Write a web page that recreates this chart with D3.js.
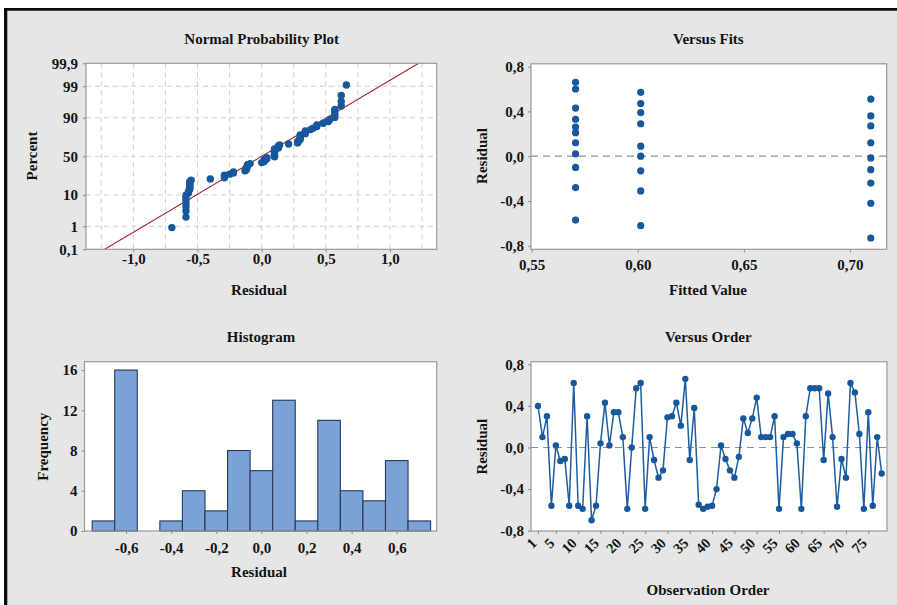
<!DOCTYPE html>
<html><head><meta charset="utf-8">
<script src="https://cdn.jsdelivr.net/npm/d3@7"></script>
<style>
html,body{margin:0;padding:0;background:#fff;}
svg{display:block;}
text{font-family:"Liberation Serif","Times New Roman",serif;font-weight:bold;fill:#141414;}
</style></head><body>
<svg id="chart" width="897" height="605"></svg>
<script>
// Residuals in observation order (1..78)
const residuals = [0.40,0.10,0.30,-0.56,0.02,-0.13,-0.11,-0.56,0.62,-0.56,
  -0.59,0.30,-0.70,-0.56,0.04,0.43,0.02,0.34,0.34,0.10,
  -0.59,0.00,0.57,0.62,-0.59,0.10,-0.12,-0.29,-0.22,0.29,
  0.30,0.43,0.21,0.66,-0.12,0.38,-0.55,-0.59,-0.57,-0.56,
  -0.40,0.02,-0.11,-0.22,-0.29,-0.09,0.28,0.14,0.28,0.48,
  0.10,0.10,0.10,0.30,-0.59,0.10,0.13,0.13,0.04,-0.59,
  0.30,0.57,0.57,0.57,-0.12,0.52,0.10,-0.57,-0.11,-0.29,
  0.62,0.53,0.13,-0.59,0.34,-0.56,0.10,-0.25];

// Distinct residuals at each fitted value
const fittedLevels = [0.5707, 0.6014, 0.7098];
const residAtFit1 = [0.66,0.60,0.43,0.33,0.26,0.21,0.12,0.02,-0.10,-0.28,-0.57];
const residAtFit2 = [0.57,0.47,0.39,0.29,0.09,0.00,-0.13,-0.31,-0.62];
const residAtFit3 = [0.51,0.36,0.27,0.12,-0.015,-0.12,-0.24,-0.42,-0.73];

// Histogram bins (centres) and counts
const histCenters = [-0.7,-0.6,-0.5,-0.4,-0.3,-0.2,-0.1,0.0,0.1,0.2,0.3,0.4,0.5,0.6,0.7];
const histCounts  = [1,16,0,1,4,2,8,6,13,1,11,4,3,7,1];
const histBinWidth = 0.1;

// Normal fit line parameters
const fitMean = 0.0, fitSd = 0.396;

// Tick values
const nppXTicks = [-1.0,-0.5,0,0.5,1.0];
const nppGridX = [-1.25,-1,-0.75,-0.5,-0.25,0,0.25,0.5,0.75,1,1.25];
const nppYTicks = [0.1,1,10,50,90,99,99.9];
const fitsXTicks = [0.55,0.60,0.65,0.70];
const residTicks = [-0.8,-0.4,0,0.4,0.8];
const histXTicks = [-0.6,-0.4,-0.2,0,0.2,0.4,0.6];
const histYTicks = [0,4,8,12,16];
const orderTicks = [1,5,10,15,20,25,30,35,40,45,50,55,60,65,70,75];

const loc = d3.formatLocale({decimal:",", thousands:".", grouping:[3], currency:["",""], minus:"-"});
const f1 = loc.format(".1f"), f2 = loc.format(".2f");

// inverse standard normal CDF (Acklam)
function probit(p){
  const a=[-3.969683028665376e+01,2.209460984245205e+02,-2.759285104469687e+02,1.383577518672690e+02,-3.066479806614716e+01,2.506628277459239e+00];
  const b=[-5.447609879822406e+01,1.615858368580409e+02,-1.556989798598866e+02,6.680131188771972e+01,-1.328068155288572e+01];
  const c=[-7.784894002430293e-03,-3.223964580411365e-01,-2.400758277161838e+00,-2.549732539343734e+00,4.374664141464968e+00,2.938163982698783e+00];
  const d=[7.784695709041462e-03,3.224671290700398e-01,2.445134137142996e+00,3.754408661907416e+00];
  const pl=0.02425, ph=1-pl; let q,r;
  if(p<pl){q=Math.sqrt(-2*Math.log(p));return (((((c[0]*q+c[1])*q+c[2])*q+c[3])*q+c[4])*q+c[5])/((((d[0]*q+d[1])*q+d[2])*q+d[3])*q+1);}
  if(p>ph){q=Math.sqrt(-2*Math.log(1-p));return -(((((c[0]*q+c[1])*q+c[2])*q+c[3])*q+c[4])*q+c[5])/((((d[0]*q+d[1])*q+d[2])*q+d[3])*q+1);}
  q=p-0.5;r=q*q;return (((((a[0]*r+a[1])*r+a[2])*r+a[3])*r+a[4])*r+a[5])*q/(((((b[0]*r+b[1])*r+b[2])*r+b[3])*r+b[4])*r+1);
}

const svg = d3.select("#chart");
const DOT = "#17579c", FRAME = "#9a9a9a", TICK = "#8a8a8a";

// outer window: grey canvas with dark border top and left
svg.append("rect").attr("x",7).attr("y",10).attr("width",890).attr("height",595).attr("fill","#e6e6e6");
svg.append("rect").attr("x",4).attr("y",8).attr("width",893).attr("height",2.7).attr("fill","#0a0a0a");
svg.append("rect").attr("x",4).attr("y",8).attr("width",3.3).attr("height",597).attr("fill","#0a0a0a");

function plotArea(b){
  svg.append("rect").attr("x",b.x0).attr("y",b.y0).attr("width",b.x1-b.x0).attr("height",b.y1-b.y0).attr("fill","#fff");
}
function frame(b){
  svg.append("rect").attr("x",b.x0).attr("y",b.y0).attr("width",b.x1-b.x0).attr("height",b.y1-b.y0)
    .attr("fill","none").attr("stroke",FRAME).attr("stroke-width",1.2);
}
function styleAxis(g, size){
  g.select(".domain").remove();
  g.selectAll(".tick line").attr("stroke",TICK);
  g.selectAll(".tick text").style("font-size",(size||15)+"px").attr("fill","#141414");
}
function title(txt,x,y){ svg.append("text").attr("x",x).attr("y",y).attr("text-anchor","middle").style("font-size","15px").text(txt); }
function xlabel(txt,x,y){ svg.append("text").attr("x",x).attr("y",y).attr("text-anchor","middle").style("font-size","15px").text(txt); }
function ylabel(txt,x,y){ svg.append("text").attr("transform",`translate(${x},${y}) rotate(-90)`).attr("text-anchor","middle").style("font-size","15px").text(txt); }

/* ---------- Normal Probability Plot ---------- */
{
  const b = {x0:86, x1:436.7, y0:63.3, y1:249.3};
  plotArea(b);
  const x = d3.scaleLinear().domain([-1.369,1.364]).range([b.x0,b.x1]);
  const z = d3.scaleLinear().domain([probit(0.001),probit(0.999)]).range([b.y1,b.y0]);
  const gg = svg.append("g").attr("stroke","#cfcfcf").attr("stroke-dasharray","5,4").attr("stroke-width",1);
  gg.selectAll("line.v").data(nppGridX).join("line").attr("class","v")
    .attr("x1",d=>x(d)).attr("x2",d=>x(d)).attr("y1",b.y0).attr("y2",b.y1);
  gg.selectAll("line.h").data(nppYTicks.slice(1,-1)).join("line").attr("class","h")
    .attr("x1",b.x0).attr("x2",b.x1).attr("y1",d=>z(probit(d/100))).attr("y2",d=>z(probit(d/100)));
  // fitted normal line
  const zl = probit(0.001), zh = probit(0.999);
  svg.append("line").attr("x1",x(fitMean+zl*fitSd)).attr("y1",z(zl)).attr("x2",x(fitMean+zh*fitSd)).attr("y2",z(zh))
    .attr("stroke","#a32a2a").attr("stroke-width",1.1);
  // points from sorted residuals with median-rank percentiles
  const sorted = residuals.slice().sort(d3.ascending);
  const n = sorted.length;
  svg.append("g").selectAll("circle").data(sorted).join("circle")
    .attr("cx",d=>x(d)).attr("cy",(d,i)=>z(probit((i+1-0.3)/(n+0.4)))).attr("r",3.7).attr("fill",DOT);
  frame(b);
  const ax = svg.append("g").attr("transform",`translate(0,${b.y1})`)
    .call(d3.axisBottom(x).tickValues(nppXTicks).tickFormat(f1).tickSize(3).tickPadding(1));
  styleAxis(ax);
  const ay = svg.append("g").attr("transform",`translate(${b.x0},0)`)
    .call(d3.axisLeft(z).tickValues(nppYTicks.map(p=>probit(p/100)))
      .tickFormat((d,i)=>nppYTicks[i]%1 ? f1(nppYTicks[i]) : String(nppYTicks[i])).tickSize(3).tickPadding(5));
  styleAxis(ay);
  title("Normal Probability Plot",261.7,43.5);
  xlabel("Residual",259,295);
  ylabel("Percent",36.7,156);
}

/* ---------- Versus Fits ---------- */
{
  const b = {x0:531, x1:886.7, y0:63.8, y1:249.3};
  plotArea(b);
  const x = d3.scaleLinear().domain([0.5497,0.7173]).range([b.x0,b.x1]);
  const y = d3.scaleLinear().domain([-0.831,0.825]).range([b.y1,b.y0]);
  svg.append("line").attr("x1",b.x0).attr("x2",b.x1).attr("y1",y(0)).attr("y2",y(0))
    .attr("stroke","#8f8f8f").attr("stroke-width",1.2).attr("stroke-dasharray","7,5");
  const pts = [];
  [residAtFit1,residAtFit2,residAtFit3].forEach((arr,k)=>arr.forEach(v=>pts.push([fittedLevels[k],v])));
  svg.append("g").selectAll("circle").data(pts).join("circle")
    .attr("cx",d=>x(d[0])).attr("cy",d=>y(d[1])).attr("r",3.6).attr("fill",DOT);
  frame(b);
  const ax = svg.append("g").attr("transform",`translate(0,${b.y1})`)
    .call(d3.axisBottom(x).tickValues(fitsXTicks).tickFormat(f2).tickSize(3).tickPadding(7));
  styleAxis(ax);
  const ay = svg.append("g").attr("transform",`translate(${b.x0},0)`)
    .call(d3.axisLeft(y).tickValues(residTicks).tickFormat(f1).tickSize(3).tickPadding(4));
  styleAxis(ay);
  title("Versus Fits",708.3,43.5);
  xlabel("Fitted Value",708,295);
  ylabel("Residual",486.7,156);
}

/* ---------- Histogram ---------- */
{
  const b = {x0:84.5, x1:436.7, y0:361.7, y1:531};
  plotArea(b);
  const x = d3.scaleLinear().domain([-0.784,0.777]).range([b.x0,b.x1]);
  const y = d3.scaleLinear().domain([0,16.83]).range([b.y1,b.y0]);
  const bars = histCenters.map((c,i)=>({c, n:histCounts[i]}));
  svg.append("g").selectAll("rect").data(bars.filter(d=>d.n>0)).join("rect")
    .attr("x",d=>x(d.c-histBinWidth/2)).attr("width",d=>x(d.c+histBinWidth/2)-x(d.c-histBinWidth/2))
    .attr("y",d=>y(d.n)).attr("height",d=>y(0)-y(d.n))
    .attr("fill","#7ba2d6").attr("stroke","#25395a").attr("stroke-width",1.1);
  frame(b);
  const ax = svg.append("g").attr("transform",`translate(0,${b.y1})`)
    .call(d3.axisBottom(x).tickValues(histXTicks).tickFormat(f1).tickSize(3).tickPadding(8));
  styleAxis(ax);
  const ay = svg.append("g").attr("transform",`translate(${b.x0},0)`)
    .call(d3.axisLeft(y).tickValues(histYTicks).tickFormat(d3.format("d")).tickSize(3).tickPadding(4));
  styleAxis(ay);
  title("Histogram",261,341.5);
  xlabel("Residual",259,576.5);
  ylabel("Frequency",48,446.7);
}

/* ---------- Versus Order ---------- */
{
  const b = {x0:531, x1:887, y0:361.7, y1:531};
  plotArea(b);
  const x = d3.scaleLinear().domain([-0.57,79.19]).range([b.x0,b.x1]);
  const y = d3.scaleLinear().domain([-0.803,0.825]).range([b.y1,b.y0]);
  svg.append("line").attr("x1",b.x0).attr("x2",b.x1).attr("y1",y(0)).attr("y2",y(0))
    .attr("stroke","#8f8f8f").attr("stroke-width",1.2).attr("stroke-dasharray","7,5");
  const line = d3.line().x((d,i)=>x(i+1)).y(d=>y(d));
  svg.append("path").datum(residuals).attr("d",line).attr("fill","none").attr("stroke","#1d5da0").attr("stroke-width",1.5);
  svg.append("g").selectAll("circle").data(residuals).join("circle")
    .attr("cx",(d,i)=>x(i+1)).attr("cy",d=>y(d)).attr("r",3.2).attr("fill",DOT);
  frame(b);
  const ax = svg.append("g").attr("transform",`translate(0,${b.y1})`)
    .call(d3.axisBottom(x).tickValues(orderTicks).tickFormat(d3.format("d")).tickSize(3));
  styleAxis(ax,14.5);
  ax.selectAll(".tick text").attr("y",0).attr("dy",0)
    .attr("transform","translate(-1,13) rotate(-45)").style("text-anchor","end");
  const ay = svg.append("g").attr("transform",`translate(${b.x0},0)`)
    .call(d3.axisLeft(y).tickValues(residTicks).tickFormat(f1).tickSize(3).tickPadding(4));
  styleAxis(ay);
  title("Versus Order",708.3,341.5);
  xlabel("Observation Order",708,595);
  ylabel("Residual",486.7,446.7);
}
</script>
</body></html>
